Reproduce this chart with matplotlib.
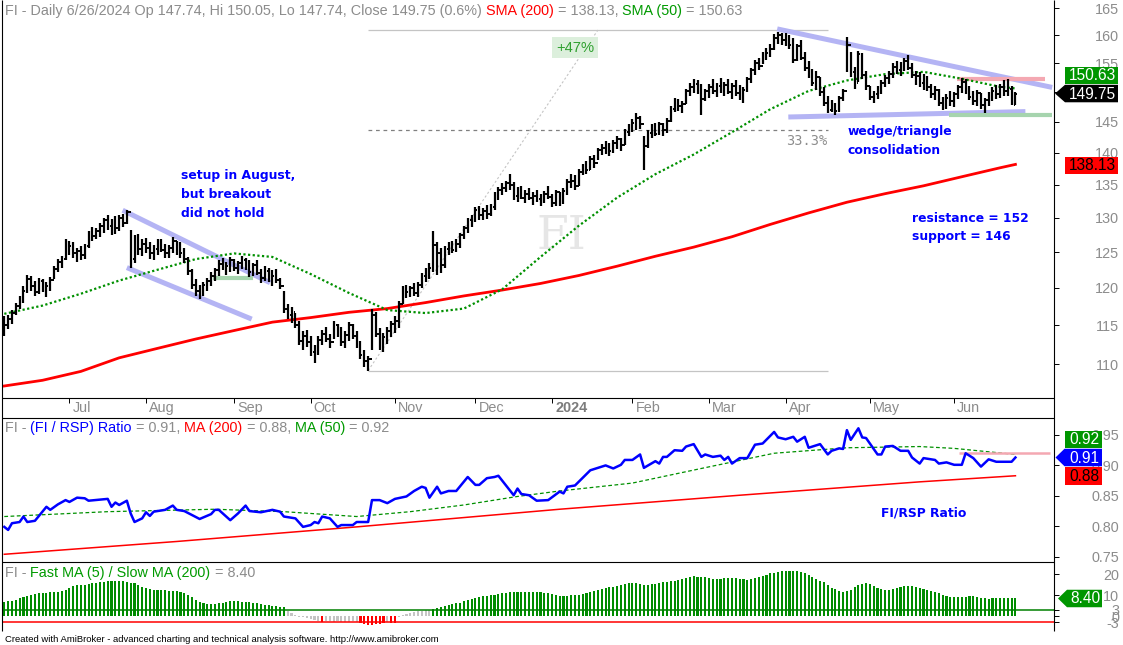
import numpy as np
import pandas as pd
import matplotlib
matplotlib.use("Agg")
import matplotlib.pyplot as plt
from matplotlib.patches import Polygon
from matplotlib.ticker import FixedLocator, FixedFormatter, NullLocator

plt.rcParams['font.family'] = ['Liberation Sans', 'DejaVu Sans']

W, H = 1123, 645

# ---- trading days on the chart ----
holidays = ['2023-06-19', '2023-07-04', '2023-09-04', '2023-11-23', '2023-12-25', '2024-01-01',
            '2024-01-15', '2024-02-19', '2024-03-29', '2024-05-27', '2024-06-19']
dates = pd.bdate_range('2023-06-07', '2024-06-26', freq='C', holidays=holidays)
month_keys = [(2023, 7), (2023, 8), (2023, 9), (2023, 10), (2023, 11), (2023, 12),
              (2024, 1), (2024, 2), (2024, 3), (2024, 4), (2024, 5), (2024, 6)]
month_labels = ['Jul', 'Aug', 'Sep', 'Oct', 'Nov', 'Dec', '2024', 'Feb', 'Mar', 'Apr', 'May', 'Jun']

# ---- FI daily bars ----
hi = [116.2, 116.4, 117.0, 118.0, 118.9, 120.2, 121.8, 121.6, 120.9, 121.4, 121.2, 120.8, 121.5, 123.0, 124.0, 124.4, 126.8,
      126.6, 126.4, 125.6, 125.8, 126.2, 128.0, 128.6, 128.4, 129.2, 130.0, 130.4, 129.8, 130.2, 130.4, 130.6, 131.2, 128.2, 127.4, 127.6, 126.8,
      127.0, 126.4, 126.0, 126.8, 126.9, 126.2, 126.0, 127.2, 126.6, 126.4, 125.6, 124.3, 122.6, 121.2, 120.4, 120.8, 121.4, 122.2, 122.8, 123.8, 124.2, 123.6, 124.3,
      124.0, 123.7, 124.5, 124.2, 123.8, 123.5, 123.8, 122.6, 123.0, 122.8, 122.4, 122.6, 121.4, 119.6, 117.8, 117.4, 116.6, 115.6, 114.2, 114.4,
      113.6, 112.4, 113.6, 114.4, 114.8, 113.8, 115.6, 115.2, 114.8, 114.2, 115.4, 115.2, 114.2, 113.0, 111.8, 111.0, 117.2, 116.8, 114.6, 114.0, 114.8, 115.6,
      116.2, 118.2, 120.2, 120.4, 120.2, 120.6, 120.8, 122.0, 122.8, 123.4, 128.0, 126.4, 125.6, 125.8, 126.4, 126.6, 126.8, 127.8, 128.8, 130.0, 130.4,
      131.6, 131.8, 131.4, 131.9, 132.0, 133.8, 134.6, 135.2, 135.6, 136.6, 135.4, 134.6, 134.8, 134.2, 134.4, 133.8, 134.2, 133.6, 134.0, 134.8,
      133.6, 134.2, 133.9, 134.4, 135.8, 136.6, 136.4, 137.4, 138.2, 138.6, 139.4, 139.6, 140.8, 141.4, 141.8, 141.6, 142.0, 142.6, 142.4, 143.8, 144.6,
      145.4, 146.4, 146.0, 142.6, 143.6, 144.6, 144.8, 145.0, 144.8, 145.6, 147.6, 149.0, 148.8, 148.4, 150.6, 151.6, 152.2, 152.0, 151.4, 150.6,
      151.4, 152.2, 151.6, 152.4, 151.8, 152.2, 151.6, 152.0, 151.2, 150.8, 152.6, 154.2, 155.6, 156.0, 157.0, 157.8, 158.4, 160.2, 160.6, 160.4,
      160.4, 160.0, 159.6, 158.4, 159.2, 157.0, 155.4, 154.0, 153.6, 152.6, 150.8, 149.4, 148.6, 148.2, 149.4, 150.6, 159.8, 157.0, 154.4, 157.2, 156.8, 153.6,
      151.0, 150.2, 151.0, 152.0, 153.0, 153.6, 155.0, 155.4, 155.2, 156.0, 156.4, 155.0, 153.6, 153.4, 153.2, 152.8, 151.4, 151.0, 150.6, 149.2, 149.6, 150.2,
      150.0, 151.2, 152.4, 152.2, 151.0, 150.2, 150.4, 149.8, 149.0, 150.0, 150.8, 151.2, 151.4, 152.0, 152.2, 151.0, 150.05]
lo = [113.6, 114.5, 115.2, 116.4, 117.2, 118.0, 119.3, 119.6, 118.9, 119.2, 119.4, 118.8, 119.6, 121.2, 122.2, 122.8, 123.8,
      124.6, 124.2, 123.6, 123.8, 124.0, 125.6, 126.6, 126.8, 127.2, 127.8, 128.2, 127.4, 127.6, 128.0, 128.6, 129.0, 122.8, 123.4, 124.6, 124.5,
      124.8, 124.0, 123.8, 124.6, 125.0, 124.2, 124.1, 124.8, 124.6, 124.2, 123.4, 121.8, 119.8, 118.9, 118.5, 118.9, 119.6, 120.2, 121.0, 121.6, 122.4, 121.8, 122.2,
      122.3, 121.9, 122.6, 122.4, 121.5, 121.6, 121.8, 120.6, 121.0, 120.8, 120.2, 120.6, 119.8, 116.6, 115.8, 115.3, 114.6, 112.4, 111.8, 112.2,
      111.0, 110.2, 111.2, 112.4, 112.8, 112.0, 113.2, 113.4, 112.3, 112.1, 113.0, 113.2, 112.0, 110.6, 109.6, 109.2, 111.8, 113.4, 111.8, 111.6, 112.6, 113.4,
      114.0, 114.6, 117.8, 118.6, 118.7, 118.9, 118.8, 120.0, 120.8, 121.2, 122.2, 121.8, 122.0, 122.8, 124.6, 124.8, 125.0, 125.6, 126.8, 127.7, 128.6,
      129.4, 129.6, 129.6, 129.8, 130.2, 131.2, 132.6, 133.4, 133.8, 134.2, 132.6, 132.4, 132.8, 132.2, 132.6, 131.9, 132.4, 131.8, 132.2, 132.8,
      131.6, 131.8, 131.7, 132.0, 133.4, 134.4, 134.2, 134.8, 136.4, 136.6, 137.2, 137.6, 138.8, 139.6, 139.8, 139.4, 140.0, 140.6, 140.2, 141.2, 142.6,
      143.4, 143.6, 143.8, 137.2, 140.8, 142.4, 142.6, 142.8, 142.6, 143.2, 145.0, 146.6, 146.8, 146.4, 148.0, 149.4, 149.8, 149.6, 146.2, 148.4,
      149.0, 149.6, 149.2, 149.8, 149.4, 149.6, 148.8, 149.4, 148.6, 148.2, 150.0, 151.6, 153.0, 153.8, 154.8, 155.6, 156.2, 157.4, 158.4, 158.2,
      158.0, 157.6, 155.0, 155.4, 155.6, 153.6, 152.4, 151.0, 150.4, 149.4, 147.6, 146.4, 146.6, 146.2, 146.6, 148.4, 153.4, 152.6, 150.6, 151.8, 152.2, 150.4,
      148.6, 148.2, 148.8, 149.6, 150.8, 151.4, 152.4, 153.2, 152.8, 153.6, 153.8, 152.4, 151.2, 150.8, 150.4, 150.2, 149.0, 148.6, 147.6, 147.0, 147.2, 147.6,
      147.4, 148.8, 149.8, 149.6, 148.6, 147.8, 147.6, 147.2, 146.4, 147.6, 148.4, 148.8, 149.0, 149.4, 149.4, 147.8, 147.74]
cl = [115.0, 115.8, 116.6, 117.6, 118.5, 119.6, 121.2, 120.2, 119.5, 120.9, 119.9, 120.3, 121.1, 122.6, 123.6, 124.0, 126.2,
      125.8, 124.8, 125.2, 124.6, 125.9, 127.6, 127.3, 128.0, 128.8, 129.6, 128.8, 129.4, 128.4, 130.0, 129.2, 130.8, 124.0, 126.8, 125.4, 126.2,
      125.6, 124.8, 125.4, 126.1, 125.3, 124.9, 125.6, 126.6, 125.1, 124.8, 124.0, 122.3, 120.4, 119.6, 119.2, 120.4, 120.9, 121.6, 122.4, 123.3, 122.9, 123.0, 123.8,
      122.8, 123.4, 123.9, 122.7, 122.2, 123.1, 122.0, 121.4, 122.3, 121.2, 121.7, 121.1, 120.3, 117.2, 116.4, 116.8, 115.0, 113.0, 113.6, 112.8,
      111.6, 111.3, 113.1, 113.9, 113.2, 112.8, 115.0, 114.2, 112.8, 113.7, 115.0, 113.6, 112.6, 111.2, 110.4, 110.6, 116.4, 113.8, 112.4, 113.5, 114.2, 115.2,
      115.6, 117.8, 119.6, 119.4, 120.0, 119.3, 120.4, 121.6, 122.4, 122.8, 126.0, 124.8, 123.2, 125.4, 125.8, 125.3, 126.2, 127.4, 128.4, 129.6, 129.8,
      131.2, 130.4, 131.0, 130.5, 131.6, 133.4, 134.1, 134.4, 135.2, 135.0, 133.2, 134.2, 133.0, 133.6, 132.9, 133.2, 132.8, 132.5, 133.6, 133.1,
      132.2, 133.8, 132.4, 134.0, 135.4, 135.6, 134.8, 137.0, 137.6, 137.2, 139.0, 138.4, 140.4, 140.8, 141.2, 140.2, 141.6, 142.2, 141.2, 143.4, 144.2,
      144.8, 145.6, 144.6, 141.0, 143.2, 144.0, 143.0, 144.6, 143.6, 145.2, 147.2, 148.4, 147.6, 147.9, 150.2, 150.8, 151.4, 150.6, 148.8, 150.2,
      150.8, 150.2, 151.0, 150.4, 151.2, 150.0, 151.0, 149.8, 149.4, 150.4, 152.2, 153.8, 155.0, 154.6, 156.6, 156.8, 157.6, 159.6, 160.0, 159.2,
      159.8, 158.2, 155.6, 158.0, 156.0, 154.2, 153.0, 151.6, 152.6, 150.0, 148.2, 147.0, 148.0, 146.8, 149.0, 150.2, 158.2, 153.4, 151.6, 156.6, 153.0, 151.0,
      149.2, 149.6, 150.4, 151.6, 152.4, 153.2, 154.4, 153.8, 154.8, 155.4, 154.2, 153.0, 152.8, 151.6, 152.6, 150.8, 149.6, 150.4, 148.2, 147.8, 149.0, 148.4,
      149.6, 150.8, 151.8, 150.2, 149.2, 148.4, 149.8, 147.8, 148.6, 149.4, 150.2, 149.6, 150.8, 150.2, 150.6, 148.86, 149.75]
last_open = 147.74

# moving averages, read every 10 bars
sma_idx = list(range(0, 261, 10)) + [264]
sma200 = [107.3, 108.0, 109.1, 110.8, 112.0, 113.2, 114.3, 115.4, 116.0, 116.7, 117.2, 118.0, 118.9, 119.7,
          120.6, 121.7, 123.0, 124.4, 125.7, 127.2, 129.0, 130.7, 132.3, 133.6, 134.8, 136.2, 137.6, 138.13]
sma50 = [116.5, 117.6, 119.2, 121.0, 122.5, 124.0, 124.8, 124.3, 121.9, 119.3, 117.0, 116.6, 117.2, 119.8,
         124.3, 128.8, 133.0, 136.6, 139.7, 143.3, 147.1, 150.2, 152.0, 153.1, 153.5, 152.3, 150.9, 150.63]

# ---- FI / RSP ratio ----
ratio_idx = [0, 1, 2, 4, 5, 6, 8, 11, 12, 14, 16, 17, 19, 21, 22, 27, 28, 29, 30, 32, 33, 34, 36, 37, 38, 39, 42, 44, 45, 47,
             51, 54, 55, 56, 59, 61, 63, 64, 67, 70, 72, 73, 76, 78, 80, 81, 82, 83, 85, 87, 88, 91, 92, 95, 96, 98, 100,
             102, 105, 107, 109, 110, 111, 113, 114, 116, 118, 121, 123, 124, 126, 128, 129, 133, 134, 135, 137, 139, 142,
             145, 146, 147, 149, 153, 154, 157, 159, 161, 162, 164, 166, 167, 170, 171, 172, 173, 175, 177, 178, 180, 182,
             183, 185, 187, 188, 189, 190, 192, 194, 196, 197, 198, 201, 202, 204, 206, 207, 209, 210, 213, 215, 216, 218,
             219, 220, 221, 223, 224, 225, 228, 229, 230, 232, 234, 236, 237, 239, 240, 243, 244, 246, 248, 250, 251, 253,
             255, 257, 259, 263, 264]
ratio = [0.799, 0.794, 0.805, 0.807, 0.816, 0.807, 0.809, 0.832, 0.827, 0.836, 0.843, 0.840, 0.847, 0.846, 0.842, 0.845,
         0.832, 0.839, 0.835, 0.842, 0.821, 0.807, 0.813, 0.823, 0.817, 0.824, 0.827, 0.834, 0.827, 0.825, 0.812, 0.820,
         0.827, 0.827, 0.810, 0.821, 0.834, 0.825, 0.823, 0.827, 0.824, 0.816, 0.813, 0.799, 0.802, 0.807, 0.805, 0.816,
         0.813, 0.799, 0.802, 0.802, 0.807, 0.807, 0.843, 0.843, 0.838, 0.845, 0.849, 0.858, 0.865, 0.863, 0.847, 0.865,
         0.854, 0.858, 0.858, 0.881, 0.868, 0.868, 0.879, 0.881, 0.883, 0.851, 0.862, 0.853, 0.851, 0.842, 0.843, 0.857,
         0.854, 0.865, 0.867, 0.892, 0.894, 0.900, 0.895, 0.901, 0.909, 0.909, 0.918, 0.896, 0.907, 0.903, 0.914, 0.914,
         0.925, 0.924, 0.931, 0.935, 0.914, 0.918, 0.914, 0.916, 0.909, 0.914, 0.903, 0.912, 0.912, 0.934, 0.935, 0.936,
         0.955, 0.946, 0.943, 0.947, 0.939, 0.947, 0.929, 0.935, 0.918, 0.924, 0.928, 0.927, 0.958, 0.942, 0.961, 0.946,
         0.945, 0.918, 0.918, 0.931, 0.932, 0.924, 0.924, 0.913, 0.903, 0.912, 0.909, 0.903, 0.905, 0.901, 0.901, 0.920,
         0.912, 0.898, 0.910, 0.906, 0.906, 0.913]
rma200_idx = [0, 45, 92, 145, 192, 239, 264]
rma200 = [0.754, 0.775, 0.799, 0.828, 0.851, 0.873, 0.883]
rma50_idx = [0, 27, 55, 73, 92, 106, 120, 134, 145, 164, 182, 201, 220, 239, 248, 264]
rma50 = [0.816, 0.824, 0.828, 0.824, 0.816, 0.824, 0.835, 0.849, 0.858, 0.871, 0.895, 0.920, 0.929, 0.931, 0.928, 0.918]

# ---- Fast MA(5) / Slow MA(200), % ----
hist = [6.8, 7.0, 7.4, 7.8, 8.4, 9.2, 9.7, 10.2, 10.6, 10.8, 11.0, 11.2, 11.4, 11.6, 11.5, 11.8, 12.6,
        13.6, 14.4, 14.8, 14.9, 15.0, 15.3, 15.6, 15.9, 16.2, 16.5, 16.7, 16.8, 16.8, 16.7, 16.7, 16.5, 16.0, 15.6, 14.9, 14.0,
        13.2, 12.9, 12.7, 12.5, 12.4, 12.3, 12.2, 12.1, 11.9, 11.6, 11.2, 10.2, 8.9, 7.6, 6.8, 6.0, 5.6, 5.6, 5.8, 6.0, 6.4, 6.8, 7.1,
        7.1, 7.0, 6.9, 6.8, 6.5, 6.3, 6.0, 5.8, 5.5, 5.2, 5.0, 4.8, 4.5, 4.1, 2.4, 1.6, 0.3, -0.4, -0.6, -0.9,
        -1.3, -2.0, -2.6, -3.1, -2.6, -2.5, -2.7, -2.6, -2.8, -2.7, -2.9, -2.6, -2.8, -3.3, -3.8, -4.4, -4.3, -3.9, -3.6, -3.4, -2.9, -3.3,
        -3.2, -0.6, 0.4, 0.9, 1.4, 1.9, 2.3, 2.5, 2.7, 2.9, 3.6, 4.0, 4.5, 5.0, 5.5, 5.8, 6.1, 6.4, 7.0, 7.5, 8.0,
        8.6, 9.1, 9.5, 9.8, 10.1, 10.3, 10.5, 10.8, 11.1, 11.4, 11.6, 11.7, 11.6, 11.5, 11.4, 11.6, 11.5, 11.3, 11.0, 10.8,
        10.4, 10.0, 9.6, 9.6, 9.8, 10.0, 10.2, 10.3, 10.6, 11.0, 11.4, 11.9, 12.3, 12.8, 13.3, 13.7, 14.1, 14.6, 15.0, 15.4, 15.9,
        16.0, 15.6, 15.3, 15.1, 15.1, 15.2, 15.5, 15.8, 16.1, 16.3, 16.6, 17.0, 17.4, 17.9, 18.3, 18.7, 19.0, 18.9, 18.9, 18.8,
        18.4, 17.9, 17.8, 17.9, 18.0, 18.2, 18.2, 18.0, 17.8, 17.6, 17.5, 17.9, 18.3, 18.7, 19.3, 19.9, 20.4, 20.8, 21.2, 21.5,
        21.7, 21.8, 21.7, 21.7, 21.2, 20.4, 19.5, 18.7, 17.8, 16.9, 16.3, 15.0, 13.6, 12.9, 12.2, 11.6, 11.8, 12.6, 13.8, 14.8, 15.3, 15.6,
        15.3, 14.6, 13.5, 13.0, 12.6, 12.4, 12.8, 13.5, 14.0, 14.2, 14.4, 14.3, 13.8, 13.2, 12.8, 12.3, 11.9, 11.6, 11.0, 10.3, 9.6, 9.2,
        9.1, 9.2, 9.2, 9.3, 9.5, 9.5, 9.2, 8.8, 8.4, 8.3, 8.5, 8.7, 8.7, 8.6, 8.7, 8.7, 8.4]

# ---- drawings on the price chart (bar index, price) ----
swing_lo, swing_hi = 109.2, 161.0
fib_start, fib_end, diag_end = 95, 215, 155
chan_upper = ([30.9, 69.4], [131.1, 120.7])
chan_lower = ([32.0, 64.6], [122.8, 115.8])
aug_base = ([54.5, 64.9], [121.4, 121.4])
wedge_upper = ([201.8, 273.6], [161.2, 150.8])
wedge_lower = ([204.7, 266.6], [145.8, 146.7])
support = ([246.7, 273.6], [146.2, 146.2])
resistance = ([248.7, 271.6], [152.3, 152.3])
ratio_line = ([249.2, 273.0], [0.921, 0.921])

GRAY = '#8c8c8c'
GREEN = '#009a00'
BLUE = '#0000ff'
RED = '#ff0000'
LAV = '#b4b4f4'

fig = plt.figure(figsize=(W / 100, H / 100), dpi=100)


def panel(top, bottom):
    return fig.add_axes([2 / W, 1 - bottom / H, 1052 / W, (bottom - top) / H])


ax1 = panel(0, 398)
ax2 = panel(417.7, 562)
ax3 = panel(562, 631)
x = np.arange(len(cl))
for ax in (ax1, ax2, ax3):
    ax.set_xlim(-0.6, 274.07)
    for s in ax.spines.values():
        s.set_visible(False)
    ax.yaxis.tick_right()
    ax.tick_params(axis='y', which='both', direction='out', length=3.6, width=0.7, color='black',
                   labelcolor=GRAY, labelsize=10.4, pad=43.2)
    ax.set_facecolor('none')


def right_ticks(ax, vals, labels):
    ax.yaxis.set_major_locator(FixedLocator(vals))
    ax.yaxis.set_minor_locator(NullLocator())
    ax.yaxis.set_major_formatter(FixedFormatter(labels))
    for t in ax.get_yticklabels():
        t.set_horizontalalignment('right')


# ---- price panel ----
ax1.set_yscale('log')
ax1.set_ylim(105.84, 166.6)
# the 150 label sits under the value boxes, as on the original
right_ticks(ax1, list(range(110, 166, 5)), ['' if v == 150 else str(v) for v in range(110, 166, 5)])
month_first = [int(np.argmax((dates.year == y) & (dates.month == m))) for y, m in month_keys]
ax1.set_xticks(month_first)
ax1.tick_params(axis='x', direction='out', length=3.6, width=0.7, labelbottom=False)
for i, lbl in zip(month_first, month_labels):
    ax1.annotate(lbl, xy=(i, 0), xycoords=('data', 'axes fraction'), xytext=(2.2, -7),
                 textcoords='offset points', ha='left', va='center', fontsize=10.4,
                 color='#7c7c7c' if lbl == '2024' else GRAY,
                 fontweight='bold' if lbl == '2024' else 'normal', annotation_clip=False)

ax1.text(145.4, 127.2, 'FI', family='DejaVu Serif', fontsize=33, color='#e6e6e6',
         ha='center', va='center', zorder=0)

retr = swing_hi - (swing_hi - swing_lo) / 3
ax1.hlines([swing_hi, swing_lo], fib_start, fib_end, color='#c4c4c4', lw=0.9, zorder=1)
ax1.hlines(retr, fib_start, fib_end, color='#808080', lw=0.9, linestyles=(0, (3, 3)), zorder=1)
ax1.plot([fib_start, diag_end], [swing_lo, swing_hi], color='#c4c4c4', lw=0.8, ls=(0, (2, 2)), zorder=1)
ax1.text(204.1, 141.9, '33.3%', family='DejaVu Sans Mono', fontsize=9.8, color=GRAY,
         ha='left', va='center')
ax1.text(149, 157.8, f'+{(swing_hi / swing_lo - 1) * 100:.0f}%', fontsize=10.6, color='#2fa02f',
         ha='center', va='center', bbox=dict(boxstyle='square,pad=0.25', fc='#dcefdc', ec='none'))

for xs, ys in (chan_upper, chan_lower, wedge_upper, wedge_lower):
    ax1.plot(xs, ys, color=LAV, lw=3.6, solid_capstyle='butt', zorder=1.5)
for (xs, ys), c in ((aug_base, '#a6d4ae'), (support, '#a6d4ae'), (resistance, '#f4a8b2')):
    ax1.plot(xs, ys, color=c, lw=3.0, solid_capstyle='butt', zorder=1.5)

ax1.plot(sma_idx, sma200, color=RED, lw=2.0, zorder=2)
ax1.plot(sma_idx, sma50, color='#009000', lw=1.6, ls=(0, (1, 1.1)), zorder=2)

opens = np.r_[cl[0], cl[:-1]]
opens[-1] = last_open
ax1.vlines(x, lo, hi, color='black', lw=1.6, zorder=4)
ax1.hlines(cl, x, x + 0.45, color='black', lw=1.4, zorder=4)
ax1.hlines(opens, x - 0.45, x, color='black', lw=1.4, zorder=4)

note = dict(fontsize=8.9, color=BLUE, fontweight='bold', family='DejaVu Sans', ha='left', va='center')


def note_lines(ax, xi, yv, lines, step):
    for k, s in enumerate(lines):
        ax.annotate(s, xy=(xi, yv), xytext=(0, -k * step), textcoords='offset points', **note)


note_lines(ax1, 46.2, 136.4, ['setup in August,', 'but breakout', 'did not hold'], 13.7)
note_lines(ax1, 220.1, 143.4, ['wedge/triangle', 'consolidation'], 13.7)
note_lines(ax1, 237.0, 129.9, [f'resistance = {resistance[1][0]:.0f}', f'support = {support[1][0]:.0f}'], 13.3)

# ---- ratio panel ----
ax2.set_ylim(0.7413, 0.9784)
right_ticks(ax2, [0.75, 0.80, 0.85, 0.90, 0.95], ['0.75', '0.80', '0.85', '0.90', '0.95'])
ax2.set_xticks([])
ax2.plot(rma200_idx, rma200, color=RED, lw=1.1)
ax2.plot(rma50_idx, rma50, color='#009000', lw=0.9, ls=(0, (3, 2)))
ax2.plot(*ratio_line, color='#f4a8b2', lw=1.8, solid_capstyle='butt')
ax2.plot(ratio_idx, ratio, color=BLUE, lw=1.8)
ax2.text(229, 0.8223, 'FI/RSP Ratio', **note)

# ---- fast/slow MA panel ----
ax3.set_ylim(-7.19, 25.9)
right_ticks(ax3, [20, 10, 3, 0, -3], ['20', '10', '3', '0', '-3'])
ax3.set_xticks([])
hcol = ['#008c00' if v > 3 else (RED if v < -3 else '#c4c4c4') for v in hist]
ax3.bar(x, hist, width=0.55, color=hcol, linewidth=0)
ax3.axhline(3, color='#008000', lw=1.1)
ax3.axhline(-3, color=RED, lw=1.1)

# ---- overlay in pixel units: frame, titles, value boxes ----
ov = fig.add_axes([0, 0, 1, 1], zorder=10)
ov.set_xlim(0, W)
ov.set_ylim(H, 0)
ov.axis('off')
for xs, ys in (([2, 2], [0, 631]), ([1054, 1054], [0, 631]), ([2, 1054], [398, 398]),
               ([2, 1054], [417.7, 417.7]), ([2, 1054], [562, 562])):
    ov.plot(xs, ys, color='black', lw=0.8, solid_capstyle='butt')

renderer = fig.canvas.get_renderer()


def text_w(s, size):
    a = ov.text(0, 0, s + '|', fontsize=size)
    b = ov.text(0, 0, '|', fontsize=size)
    w = a.get_window_extent(renderer).width - b.get_window_extent(renderer).width
    a.remove()
    b.remove()
    return w


def color_text(x0, y0, pieces, size=10.4):
    for s, c in pieces:
        ov.text(x0, y0, s, color=c, fontsize=size, ha='left', va='center')
        x0 += text_w(s, size)


pct = (cl[-1] / cl[-2] - 1) * 100
color_text(5, 11, [(f'FI - Daily 6/26/2024 Op {last_open:.2f}, Hi {hi[-1]:.2f}, Lo {lo[-1]:.2f}, '
                    f'Close {cl[-1]:.2f} ({pct:.1f}%) ', GRAY),
                   ('SMA (200)', RED), (f' = {sma200[-1]:.2f}, ', GRAY),
                   ('SMA (50)', GREEN), (f' = {sma50[-1]:.2f}', GRAY)])
color_text(5, 427.7, [('FI - ', GRAY), ('(FI / RSP) Ratio', BLUE), (f' = {ratio[-1]:.2f}, ', GRAY),
                      ('MA (200)', RED), (f' = {rma200[-1]:.2f}, ', GRAY),
                      ('MA (50)', GREEN), (f' = {rma50[-1]:.2f}', GRAY)])
color_text(5, 572.7, [('FI - ', GRAY), ('Fast MA (5) / Slow MA (200)', GREEN), (f' = {hist[-1]:.2f}', GRAY)])
ov.text(5, 639, 'Created with AmiBroker - advanced charting and technical analysis software. '
        'http://www.amibroker.com', fontsize=6.8, color='black', ha='left', va='center')


def ypx(ax, v):
    return H - ax.transData.transform((0, v))[1]


def value_box(yc, text, fc, tc, x0, x1, tip=None, h=17.5):
    if tip is None:
        pts = [(x0, yc - h / 2), (x1, yc - h / 2), (x1, yc + h / 2), (x0, yc + h / 2)]
    else:
        pts = [(tip, yc), (x0, yc - h / 2), (x1, yc - h / 2), (x1, yc + h / 2), (x0, yc + h / 2)]
    ov.add_patch(Polygon(pts, closed=True, fc=fc, ec='none'))
    ov.text((x0 + x1) / 2 + 1, yc + 0.5, text, color=tc, fontsize=11.2, ha='center', va='center')


y_close = ypx(ax1, cl[-1])
value_box(y_close, f'{cl[-1]:.2f}', 'black', 'white', 1065, 1118, tip=1055)
value_box(y_close - 18.2, f'{sma50[-1]:.2f}', '#009600', 'white', 1065, 1118)
value_box(ypx(ax1, sma200[-1]) + 1, f'{sma200[-1]:.2f}', RED, 'black', 1065, 1118)

y_ratio = ypx(ax2, ratio[-1])
value_box(y_ratio, f'{ratio[-1]:.2f}', BLUE, 'white', 1064.5, 1102, tip=1055.5)
value_box(y_ratio - 18.2, f'{rma50[-1]:.2f}', '#009600', 'white', 1064.5, 1102)
value_box(max(ypx(ax2, rma200[-1]), y_ratio + 18.2), f'{rma200[-1]:.2f}', RED, 'black', 1064.5, 1102)

value_box(ypx(ax3, hist[-1]), f'{hist[-1]:.2f}', '#009600', 'white', 1067, 1102, tip=1058)

fig.savefig('out.png', dpi=100)
